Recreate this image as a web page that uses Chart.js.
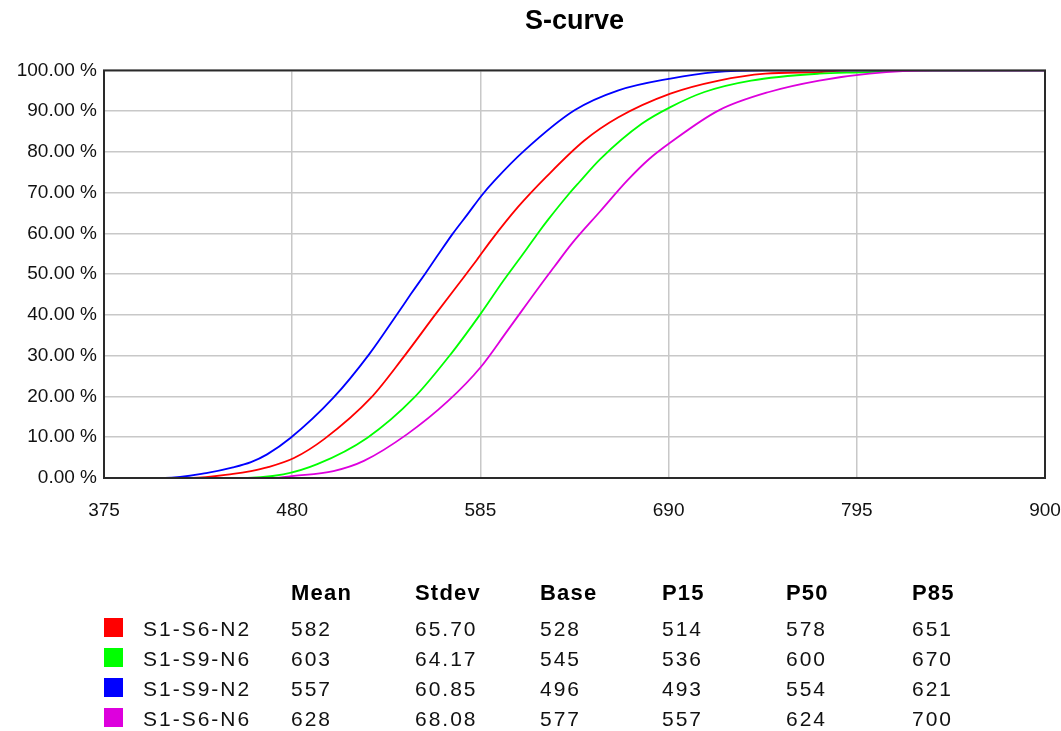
<!DOCTYPE html>
<html>
<head>
<meta charset="utf-8">
<script src="https://cdn.jsdelivr.net/npm/chart.js@4/dist/chart.umd.min.js"></script>
<style>
  body { margin: 0; background: #fff; }
  #wrap { position: relative; width: 1061px; height: 731px; }
  #wrap canvas { position: absolute; left: 0; top: 0; }
  .stats {
    position: absolute; left: 0; top: 0;
    font-family: "Liberation Sans", Arial, sans-serif;
    color: #111;
  }
  .stats .c { position: absolute; white-space: nowrap; font-size: 21px; letter-spacing: 2px; line-height: 24px; }
  .stats .h { font-weight: bold; font-size: 22px; letter-spacing: 1.2px; color: #000; }
  .sw { position: absolute; width: 19px; height: 19px; }
</style>
</head>
<body>
<div id="wrap">
  <canvas id="myChart" width="1061" height="731"></canvas>
  <div class="stats" id="stats"></div>
</div>
<script>
// series names + colours ---------------------------------------------
const seriesNames = ["S1-S6-N2", "S1-S9-N6", "S1-S9-N2", "S1-S6-N6"];
const seriesColors = ["#ff0000", "#00ff00", "#0000ff", "#dd00dd"];

// curve points: x value, cumulative %
const redX = [375, 424, 447, 457, 466, 481, 498, 524, 542, 560, 577, 583, 591, 606, 622, 643, 662, 691, 718, 744, 774, 790, 900];
const redY = [0, 0, 1.0, 1.7, 2.6, 4.9, 9.6, 19.7, 29.6, 40.2, 50.0, 53.5, 58.3, 66.5, 74.0, 82.8, 88.5, 94.3, 97.5, 99.2, 99.6, 100, 100];

const greenX = [375, 447, 475, 494, 522, 548, 568.5, 585, 598, 606, 611, 617, 623, 634, 640, 652, 675, 691, 710, 736, 774, 802, 815, 900];
const greenY = [0, 0, 0.9, 3.4, 9.9, 19.7, 30.4, 40.2, 48.5, 53.3, 56.3, 60.0, 63.5, 69.5, 72.5, 78.3, 86.9, 91.0, 94.7, 97.5, 99.2, 99.6, 100, 100];

const blueX = [375, 409, 432, 447, 457, 466, 479, 503, 523, 539, 546, 554, 561, 569.5, 578, 585.5, 593, 609.5, 637.5, 662, 691, 716, 744, 900];
const blueY = [0, 0, 1.2, 2.6, 3.9, 5.8, 9.8, 19.7, 30.4, 40.5, 45.0, 50.0, 54.5, 59.9, 64.8, 69.2, 73.0, 80.3, 90.2, 95.1, 98.0, 99.6, 100, 100];

const magentaX = [375, 469, 481, 503, 520, 544, 567, 585, 600, 619, 626, 636, 652, 667, 679, 691, 718, 746, 774, 802, 838, 900];
const magentaY = [0, 0, 0.5, 1.7, 4.2, 10.7, 18.9, 27.1, 36.1, 47.6, 51.7, 57.5, 65.5, 73.0, 78.2, 82.3, 90.2, 94.7, 97.5, 99.2, 100, 100];

// table under the chart
const statHeaders = ["Mean", "Stdev", "Base", "P15", "P50", "P85"];
const meanVals = [582, 603, 557, 628];
const stdevVals = ["65.70", "64.17", "60.85", "68.08"];
const baseVals = [528, 545, 496, 577];
const p15Vals = [514, 536, 493, 557];
const p50Vals = [578, 600, 554, 624];
const p85Vals = [651, 670, 621, 700];

// axis ticks
const xMin = 375, xMax = 900, xStep = 105;
const yMin = 0, yMax = 100, yStep = 10;

function pts(xs, ys) {
  return xs.map((x, i) => ({ x: x, y: ys[i] }));
}

const curves = [pts(redX, redY), pts(greenX, greenY), pts(blueX, blueY), pts(magentaX, magentaY)];

// frame round the plot area
const frame = {
  id: "frame",
  afterDraw(chart) {
    const a = chart.chartArea;
    const ctx = chart.ctx;
    ctx.save();
    ctx.strokeStyle = "#2a2a2a";
    ctx.lineWidth = 2;
    ctx.strokeRect(a.left, a.top, a.right - a.left, a.bottom - a.top);
    ctx.restore();
  },
};

const tickFont = { family: "'Liberation Sans', Arial, sans-serif", size: 19 };

const ctx = document.getElementById("myChart").getContext("2d");
const myChart = new Chart(ctx, {
  type: "line",
  data: {
    datasets: curves.map((c, i) => ({
      label: seriesNames[i],
      data: c,
      borderColor: seriesColors[i],
      backgroundColor: seriesColors[i],
      borderWidth: 1.8,
      pointRadius: 0,
      cubicInterpolationMode: "monotone",
      order: 3 - i,
    })),
  },
  options: {
    responsive: false,
    animation: false,
    layout: { padding: { left: 0, right: 16, top: 0, bottom: 0 } },
    plugins: {
      legend: { display: false },
      tooltip: { enabled: false },
      title: {
        display: true,
        fullSize: false,
        text: "S-curve",
        color: "#000",
        font: { family: "'Liberation Sans', Arial, sans-serif", size: 27, weight: "bold" },
        padding: { top: 5, bottom: 33 },
      },
    },
    scales: {
      x: {
        type: "linear",
        min: xMin,
        max: xMax,
        ticks: { stepSize: xStep, color: "#111", font: tickFont, padding: 21, maxRotation: 0 },
        grid: { color: "#c8c8c8", lineWidth: 1.5, drawTicks: false },
        border: { display: false },
        afterFit(scale) {
          scale.height = 253;
          scale.paddingLeft = 0;
          scale.paddingRight = 0;
        },
      },
      y: {
        min: yMin,
        max: yMax,
        ticks: {
          stepSize: yStep,
          color: "#111",
          font: tickFont,
          padding: 7,
          callback: (v) => v.toFixed(2) + " %",
        },
        grid: { color: "#c8c8c8", lineWidth: 1.5, drawTicks: false },
        border: { display: false },
        afterFit(scale) { scale.width = 104; },
      },
    },
  },
  plugins: [frame],
});

// stats table ----------------------------------------------------------
const colX = [291, 415, 540, 662, 786, 912];
const headerY = 581;
const rowY = [617, 647, 677, 707];
const rows = [meanVals, stdevVals, baseVals, p15Vals, p50Vals, p85Vals];
const stats = document.getElementById("stats");

function cell(text, x, y, cls) {
  const d = document.createElement("div");
  d.className = cls;
  d.textContent = text;
  d.style.left = x + "px";
  d.style.top = y + "px";
  stats.appendChild(d);
}

statHeaders.forEach((h, j) => cell(h, colX[j], headerY, "c h"));
seriesNames.forEach((name, i) => {
  const sw = document.createElement("div");
  sw.className = "sw";
  sw.style.left = "104px";
  sw.style.top = rowY[i] + 1 + "px";
  sw.style.background = seriesColors[i];
  stats.appendChild(sw);
  cell(name, 143, rowY[i], "c");
  rows.forEach((vals, j) => cell(String(vals[i]), colX[j], rowY[i], "c"));
});
</script>
</body>
</html>
